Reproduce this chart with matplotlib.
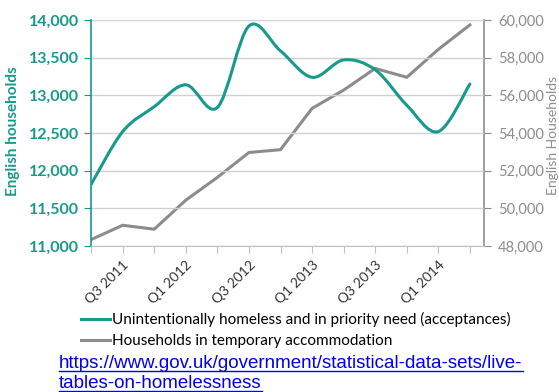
import matplotlib.pyplot as plt
from matplotlib.path import Path
from matplotlib.patches import PathPatch
from matplotlib.lines import Line2D
from matplotlib.ticker import FuncFormatter

quarters = ["Q2 2011", "Q3 2011", "Q4 2011", "Q1 2012", "Q2 2012", "Q3 2012", "Q4 2012",
            "Q1 2013", "Q2 2013", "Q3 2013", "Q4 2013", "Q1 2014", "Q2 2014"]
acceptances = [11820, 12520, 12850, 13140, 12840, 13920, 13590,
               13240, 13470, 13340, 12870, 12520, 13150]
temporary = [48350, 49110, 48900, 50440, 51650, 52970, 53120,
             55310, 56280, 57430, 56960, 58440, 59740]

teal = "#169a8b"
grey = "#8c8c8c"
plt.rcParams["font.family"] = ["Lato", "DejaVu Sans"]

fig = plt.figure(figsize=(5.59, 3.92), dpi=100)
ax = fig.add_axes([0.163, 0.372, 0.703, 0.577])
ax2 = ax.twinx()

x = list(range(len(quarters)))

# smooth curve like Excel: Catmull-Rom converted to cubic Bezier segments
verts = [(x[0], acceptances[0])]
codes = [Path.MOVETO]
n = len(x)
for i in range(n - 1):
    p0 = (x[max(i - 1, 0)], acceptances[max(i - 1, 0)])
    p1 = (x[i], acceptances[i])
    p2 = (x[i + 1], acceptances[i + 1])
    p3 = (x[min(i + 2, n - 1)], acceptances[min(i + 2, n - 1)])
    c1 = (p1[0] + (p2[0] - p0[0]) / 6, p1[1] + (p2[1] - p0[1]) / 6)
    c2 = (p2[0] - (p3[0] - p1[0]) / 6, p2[1] - (p3[1] - p1[1]) / 6)
    verts += [c1, c2, p2]
    codes += [Path.CURVE4] * 3
ax.add_patch(PathPatch(Path(verts, codes), fill=False, edgecolor=teal, lw=2.2,
                       capstyle="round", joinstyle="round", zorder=3))

ax2.plot(x, temporary, color=grey, lw=2.2, solid_joinstyle="round")

ax.set_xlim(0, 12.45)
ax.set_ylim(11000, 14000)
ax2.set_ylim(48000, 60000)
ax.set_yticks(range(11000, 14001, 500))
ax2.set_yticks(range(48000, 60001, 2000))
fmt = FuncFormatter(lambda v, p: f"{int(v):,}")
ax.yaxis.set_major_formatter(fmt)
ax2.yaxis.set_major_formatter(fmt)
ax.set_zorder(ax2.get_zorder() + 1)
ax.patch.set_visible(False)

ax.grid(axis="y", color="#d0d0d0", lw=1)
ax.set_axisbelow(True)

ax.set_xticks(x)
ax.set_xticklabels([q if i % 2 == 1 else "" for i, q in enumerate(quarters)],
                   rotation=45, ha="right", rotation_mode="anchor", fontsize=10, color="#333333")
ax.tick_params(axis="x", length=5, color="#c0c0c0", pad=4)
ax.tick_params(axis="y", length=5, color=teal, labelcolor=teal, labelsize=11.5)
for lab in ax.get_yticklabels():
    lab.set_fontweight("bold")
ax2.tick_params(axis="y", length=5, color=grey, labelcolor=grey, labelsize=10.5, pad=5)

for a in (ax, ax2):
    a.spines["top"].set_visible(False)
ax.spines["left"].set_color(teal)
ax.spines["left"].set_linewidth(1.2)
ax.spines["right"].set_visible(False)
ax2.spines["left"].set_visible(False)
ax2.spines["right"].set_color(grey)
ax2.spines["right"].set_linewidth(1.2)
ax.spines["bottom"].set_color("#c0c0c0")
ax2.spines["bottom"].set_visible(False)

ax.set_ylabel("English households", color=teal, fontsize=11, fontweight="bold")
ax.yaxis.set_label_coords(-0.18, 0.51)
ax2.set_ylabel("English Households", color=grey, fontsize=10)
ax2.yaxis.set_label_coords(1.16, 0.49)

handles = [Line2D([], [], color=teal, lw=2.2), Line2D([], [], color=grey, lw=2.2)]
labels = ["Unintentionally homeless and in priority need (acceptances)",
          "Households in temporary accommodation"]
fig.legend(handles, labels, loc="upper left", bbox_to_anchor=(0.145, 0.203),
           frameon=False, fontsize=11, handlelength=1.9, handletextpad=0.15,
           labelspacing=0.42, borderaxespad=0, borderpad=0)

url1 = fig.text(59 / 559, 1 - 368 / 392, "https://www.gov.uk/government/statistical-data-sets/live-",
                fontsize=13.5, color="#0000ee", family="Liberation Sans", va="baseline")
url2 = fig.text(59 / 559, 1 - 388 / 392, "tables-on-homelessness",
                fontsize=13.5, color="#0000ee", family="Liberation Sans", va="baseline")

# underline the link text
fig.canvas.draw()
renderer = fig.canvas.get_renderer()
for t in (url1, url2):
    bb = t.get_window_extent(renderer).transformed(fig.transFigure.inverted())
    yb = t.get_position()[1] - 2.5 / 392
    fig.add_artist(Line2D([bb.x0, bb.x1], [yb, yb], color="#0000ee", lw=1))

fig.savefig("out.png", dpi=100)
